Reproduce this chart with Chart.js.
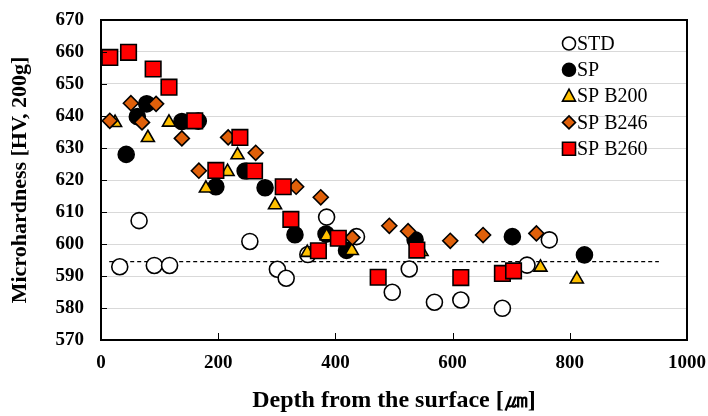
<!DOCTYPE html>
<html>
<head>
<meta charset="utf-8">
<script src="https://cdn.jsdelivr.net/npm/chart.js@4/dist/chart.umd.min.js"></script>
<style>
  html, body { margin: 0; padding: 0; background: #fff; }
  #wrap { width: 708px; height: 416px; }
</style>
</head>
<body>
<div id="wrap"><canvas id="chart"></canvas></div>
<script>
// depth [um] / hardness [HV]
const stdX = [32, 65, 91, 117, 254, 301, 316, 353, 385, 436, 497, 526, 569, 614, 685, 727, 765];
const stdY = [592.9, 607.3, 593.3, 593.3, 600.8, 592.1, 589.3, 596.7, 608.4, 602.3, 584.9, 592.2, 581.8, 582.5, 579.9, 593.4, 601.3];

const spX = [43, 62, 78, 138, 166, 196, 246, 280, 331, 384, 419, 536, 702, 825];
const spY = [628, 639.8, 643.8, 638.3, 638.4, 617.9, 622.8, 617.6, 602.9, 603.1, 598, 601.3, 602.3, 596.6];

const b200X = [24, 80, 116, 179, 216, 233, 297, 352, 385, 428, 547, 750, 812];
const b200Y = [637.9, 633.2, 638, 617.4, 622.6, 627.8, 612.2, 597.3, 602.5, 597.9, 597.6, 592.7, 589];

const b246X = [15, 51, 70, 94, 138, 167, 217, 264, 333, 375, 429, 492, 524, 596, 652, 743];
const b246Y = [638.5, 644, 638, 643.8, 633, 622.9, 633.3, 628.5, 617.9, 614.6, 602, 605.7, 604, 601, 602.8, 603.3];

const b260X = [15, 47, 89, 116, 160, 196, 237, 262, 311, 324, 371, 405, 473, 539, 614, 685, 704];
const b260Y = [658.3, 659.9, 654.7, 649, 638.5, 623, 633.3, 622.8, 617.9, 607.7, 597.9, 601.8, 589.6, 598.1, 589.5, 590.8, 591.6];

// dashed reference level
const refX = [14, 952];
const refLevel = 594.5;

const xTicks = [0, 200, 400, 600, 800, 1000];
const yTicks = [570, 580, 590, 600, 610, 620, 630, 640, 650, 660, 670];

const serif = '"Liberation Serif", "Times New Roman", serif';

function pts(xs, ys) {
  return xs.map((x, i) => ({ x: x, y: ys[i] }));
}

const series = [
  { label: 'STD', x: stdX, y: stdY, style: 'circle', fill: '#ffffff', r: 8, order: 5 },
  { label: 'SP', x: spX, y: spY, style: 'circle', fill: '#000000', r: 8, order: 4 },
  { label: 'SP B200', x: b200X, y: b200Y, style: 'triangle', fill: '#FFC000', r: 7.5, order: 3 },
  { label: 'SP B246', x: b246X, y: b246Y, style: 'rectRot', fill: '#E0600A', r: 7.5, order: 2 },
  { label: 'SP B260', x: b260X, y: b260Y, style: 'rect', fill: '#FF0000', r: 11, order: 1 }
];

const datasets = series.map(s => ({
  label: s.label,
  data: pts(s.x, s.y),
  pointStyle: s.style,
  pointRadius: s.r,
  pointBackgroundColor: s.fill,
  pointBorderColor: '#000',
  pointBorderWidth: 1.6,
  order: s.order
}));

datasets.push({
  type: 'line',
  label: 'ref',
  data: refX.map(x => ({ x: x, y: refLevel })),
  borderColor: '#000',
  borderWidth: 1.2,
  borderDash: [4, 3],
  pointRadius: 0,
  order: 6
});

function drawMark(ctx, style, x, y, fill) {
  ctx.fillStyle = fill;
  ctx.strokeStyle = '#000';
  ctx.lineWidth = 1.6;
  ctx.beginPath();
  if (style === 'circle') {
    ctx.arc(x, y, 6.5, 0, Math.PI * 2);
  } else if (style === 'triangle') {
    ctx.moveTo(x, y - 7);
    ctx.lineTo(x + 6.5, y + 5);
    ctx.lineTo(x - 6.5, y + 5);
    ctx.closePath();
  } else if (style === 'rectRot') {
    ctx.moveTo(x, y - 6.5);
    ctx.lineTo(x + 6.5, y);
    ctx.lineTo(x, y + 6.5);
    ctx.lineTo(x - 6.5, y);
    ctx.closePath();
  } else {
    ctx.rect(x - 6.5, y - 6.5, 13, 13);
  }
  ctx.fill();
  ctx.stroke();
}

// frame, inward tick marks and the legend inside the plot
const overlayPlugin = {
  id: 'overlay',
  afterDatasetsDraw(chart) {
    const ctx = chart.ctx;
    const a = chart.chartArea;
    const sx = chart.scales.x;
    const sy = chart.scales.y;
    const L = Math.round(a.left), R = Math.round(a.right);
    const T = Math.round(a.top), B = Math.round(a.bottom);
    ctx.save();
    ctx.fillStyle = '#000';
    yTicks.forEach(v => {
      const y = Math.round(sy.getPixelForValue(v));
      ctx.fillRect(L, y, 6, 1);
    });
    xTicks.forEach(v => {
      const x = Math.round(sx.getPixelForValue(v));
      ctx.fillRect(x, B - 7, 1, 7);
    });
    ctx.fillRect(L - 1, T - 1, R - L + 2, 2);
    ctx.fillRect(L - 1, B - 1, R - L + 2, 2);
    ctx.fillRect(L - 1, T - 1, 2, B - T + 2);
    ctx.fillRect(R - 1, T - 1, 2, B - T + 2);

    ctx.font = '20px ' + serif;
    ctx.textBaseline = 'middle';
    ctx.textAlign = 'left';
    series.forEach((s, i) => {
      const y = a.top + 23.5 + i * 26.3;
      const x = a.right - 118;
      drawMark(ctx, s.style, x, y, s.fill);
      ctx.fillStyle = '#000';
      ctx.fillText(s.label, x + 8, y + 1);
    });
    ctx.restore();
  }
};

new Chart(document.getElementById('chart'), {
  type: 'scatter',
  data: { datasets: datasets },
  options: {
    responsive: true,
    maintainAspectRatio: false,
    animation: false,
    events: [],
    layout: { padding: { top: 20, right: 21, left: 0, bottom: 0 } },
    plugins: {
      legend: { display: false },
      tooltip: { enabled: false }
    },
    scales: {
      x: {
        type: 'linear',
        min: 0,
        max: 1000,
        afterFit: s => {
          s.height = 76;
          s.paddingLeft = 0;
          s.paddingRight = 0;
        },
        afterBuildTicks: s => { s.ticks = xTicks.map(v => ({ value: v })); },
        grid: { display: false, drawTicks: false },
        border: { display: false },
        ticks: {
          padding: 12,
          color: '#000',
          callback: v => String(v),
          font: { family: serif, size: 19, weight: 'bold' }
        },
        title: {
          display: true,
          text: 'Depth from the surface [\u339B]',
          color: '#000',
          font: { family: serif, size: 24, weight: 'bold' },
          padding: { top: 0, bottom: 1 }
        }
      },
      y: {
        type: 'linear',
        min: 570,
        max: 670,
        afterFit: s => {
          s.width = 101;
          s.paddingTop = 0;
          s.paddingBottom = 0;
        },
        afterBuildTicks: s => { s.ticks = yTicks.map(v => ({ value: v })); },
        grid: { color: '#d9d9d9', lineWidth: 1, drawTicks: false },
        border: { display: false },
        ticks: {
          padding: 17,
          color: '#000',
          callback: v => String(v),
          font: { family: serif, size: 19, weight: 'bold' }
        },
        title: {
          display: true,
          text: 'Microhardness [HV, 200g]',
          color: '#000',
          font: { family: serif, size: 22, weight: 'bold' },
          padding: { top: 7, bottom: 0 }
        }
      }
    }
  },
  plugins: [overlayPlugin]
});
</script>
</body>
</html>
